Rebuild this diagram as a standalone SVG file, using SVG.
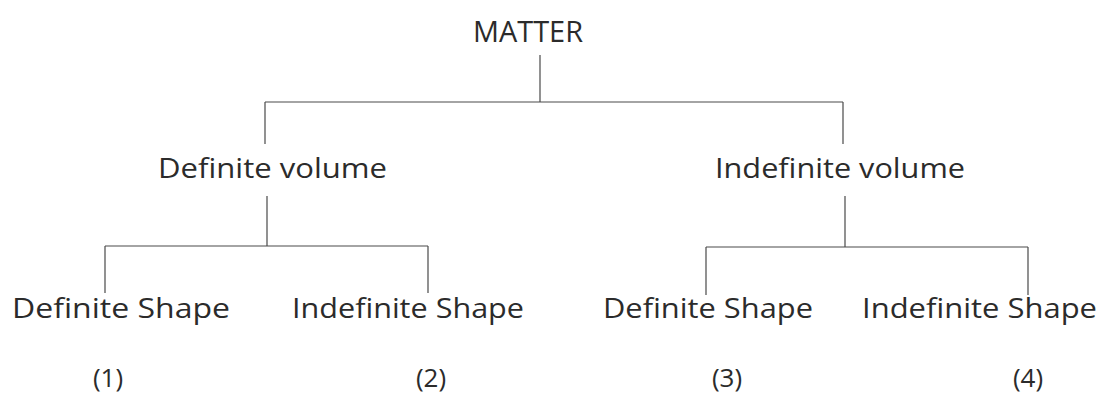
<svg xmlns="http://www.w3.org/2000/svg" width="1102" height="394" viewBox="0 0 1102 394">
<style>
  .t { font-family: "Open Sans", "Liberation Sans", sans-serif; fill: #2b2b2b; }
  .lbl { font-size: 27px; }
  .num { font-size: 26px; text-anchor: middle; }
  .c { fill: none; stroke: #4a4a4a; stroke-width: 1.2; }
</style>
<rect width="1102" height="394" fill="#ffffff"/>
<g id="connectors">
  <path class="c" d="M540 55 V102 M265 102 H843 M265 102 V144 M843 102 V144"/>
  <path class="c" d="M267 196 V246 M105 246 H428 M105 246 V293 M428 246 V293"/>
  <path class="c" d="M845 196 V247 M706 247 H1028 M706 247 V295 M1028 247 V295"/>
</g>
<g id="matter"><text class="t" x="473" y="42" font-size="30" textLength="110" lengthAdjust="spacingAndGlyphs">MATTER</text></g>
<g id="definite-volume"><text class="t lbl" x="158" y="178" textLength="229" lengthAdjust="spacingAndGlyphs">Definite volume</text></g>
<g id="indefinite-volume"><text class="t lbl" x="715" y="178" textLength="250" lengthAdjust="spacingAndGlyphs">Indefinite volume</text></g>
<g id="shape1"><text class="t lbl" x="12" y="318" textLength="218" lengthAdjust="spacingAndGlyphs">Definite Shape</text></g>
<g id="shape2"><text class="t lbl" x="292" y="318" textLength="232" lengthAdjust="spacingAndGlyphs">Indefinite Shape</text></g>
<g id="shape3"><text class="t lbl" x="603" y="318" textLength="210" lengthAdjust="spacingAndGlyphs">Definite Shape</text></g>
<g id="shape4"><text class="t lbl" x="862" y="318" textLength="235" lengthAdjust="spacingAndGlyphs">Indefinite Shape</text></g>
<g id="n1"><text class="t num" x="108" y="387">(1)</text></g>
<g id="n2"><text class="t num" x="431" y="387">(2)</text></g>
<g id="n3"><text class="t num" x="727" y="387">(3)</text></g>
<g id="n4"><text class="t num" x="1028" y="387">(4)</text></g>
</svg>
